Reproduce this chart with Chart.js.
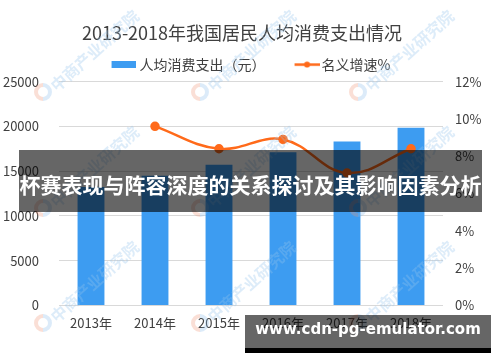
<!DOCTYPE html>
<html>
<head>
<meta charset="utf-8">
<script src="https://cdn.jsdelivr.net/npm/chart.js@4/dist/chart.umd.min.js"></script>
<style>
html, body { margin: 0; padding: 0; background: #fff; }
#wrap { position: relative; width: 500px; height: 362px; overflow: hidden; }
canvas { display: block; }
.banner {
    position: absolute; left: 19px; top: 150px; width: 463px; height: 62px;
    background: rgba(0, 0, 0, 0.6); color: #fff;
    font: bold 21px "Noto Sans CJK SC"; line-height: 68px;
    text-align: center; white-space: nowrap;
}
.site {
    position: absolute; left: 245px; top: 315px; width: 246px; height: 33px;
    background: rgba(0, 0, 0, 0.6); border-bottom: 5px solid #000;
}
.site-text {
    position: absolute; left: 245px; top: 320px; width: 246px; line-height: 33px;
    color: #fff; font: bold 15px "DejaVu Sans"; text-align: center; white-space: nowrap;
}
</style>
</head>
<body>
<div id="wrap">
    <canvas id="chart" width="500" height="362"></canvas>
    <div class="banner">杯赛表现与阵容深度的关系探讨及其影响因素分析</div>
    <div class="site"></div>
    <div class="site-text">www.cdn-pg-emulator.com</div>
</div>
<script>
const years = ['2013年', '2014年', '2015年', '2016年', '2017年', '2018年'];
const spending = [13220, 14491, 15712, 17111, 18322, 19853];
const growth = [null, 9.6, 8.4, 8.9, 7.1, 8.4];

const barColor = '#3d9cf1';
const lineColor = '#ff6a1a';
const textColor = '#404040';
const cjk = '"Noto Sans CJK SC", sans-serif';

// legend icons (drawn inside wider canvases so they sit like the original)
function makeIcon(w, h, draw) {
    const c = document.createElement('canvas');
    c.width = w;
    c.height = h;
    draw(c.getContext('2d'));
    return c;
}
const barIcon = makeIcon(45, 7, g => {
    g.fillStyle = barColor;
    g.fillRect(21, 0, 24, 7);
});
const lineIcon = makeIcon(49, 7, g => {
    g.strokeStyle = lineColor;
    g.lineWidth = 2.5;
    g.beginPath();
    g.moveTo(24, 3.5);
    g.lineTo(49, 3.5);
    g.stroke();
    g.fillStyle = lineColor;
    g.beginPath();
    g.arc(36.5, 3.5, 3, 0, Math.PI * 2);
    g.fill();
});

// faint site watermark
const watermark = {
    id: 'watermark',
    afterDatasetsDraw(chart) {
        const ctx = chart.ctx;
        const cols = [43, 200, 358];
        const rows = [92, 208, 323];
        ctx.save();
        rows.forEach(ly => {
            cols.forEach(lx => {
                ctx.save();
                ctx.lineWidth = 4;
                ctx.beginPath();
                ctx.arc(lx, ly, 7, Math.PI * 0.5, Math.PI * 1.5);
                ctx.strokeStyle = 'rgba(240, 150, 120, 0.3)';
                ctx.stroke();
                ctx.beginPath();
                ctx.arc(lx, ly, 7, Math.PI * 1.5, Math.PI * 0.5);
                ctx.strokeStyle = 'rgba(140, 190, 235, 0.3)';
                ctx.stroke();
                ctx.translate(lx + 10, ly - 4);
                ctx.rotate(-0.73);
                ctx.font = 'bold 16px ' + cjk;
                ctx.fillStyle = 'rgba(150, 195, 235, 0.32)';
                ctx.textBaseline = 'middle';
                ctx.fillText('中商产业研究院', 0, 0);
                ctx.restore();
            });
        });
        ctx.restore();
    }
};

new Chart(document.getElementById('chart'), {
    type: 'bar',
    data: {
        labels: years,
        datasets: [
            {
                type: 'line',
                label: '名义增速%',
                data: growth,
                yAxisID: 'y1',
                borderColor: lineColor,
                backgroundColor: lineColor,
                borderWidth: 2.5,
                pointRadius: 3.5,
                pointHoverRadius: 3.5,
                tension: 0.4,
                fill: false
            },
            {
                label: '人均消费支出（元）',
                data: spending,
                yAxisID: 'y',
                backgroundColor: barColor,
                categoryPercentage: 1,
                barPercentage: 0.42
            }
        ]
    },
    options: {
        responsive: false,
        animation: false,
        layout: { padding: { top: 18, left: 2, right: 18, bottom: 21 } },
        plugins: {
            tooltip: { enabled: false },
            title: {
                display: true,
                text: '2013-2018年我国居民人均消费支出情况',
                color: textColor,
                font: { family: cjk, size: 18, weight: 'normal' },
                padding: { top: 4, bottom: 4 }
            },
            legend: {
                display: true,
                labels: {
                    color: textColor,
                    font: { family: cjk, size: 14 },
                    usePointStyle: true,
                    pointStyleWidth: 39,
                    padding: 10,
                    sort: (a, b) => b.datasetIndex - a.datasetIndex,
                    generateLabels(chart) {
                        const items = Chart.defaults.plugins.legend.labels.generateLabels(chart);
                        items.forEach(it => {
                            it.pointStyle = it.datasetIndex === 0 ? lineIcon : barIcon;
                        });
                        return items;
                    }
                }
            }
        },
        scales: {
            x: {
                grid: { display: false, drawTicks: false },
                border: { display: false },
                ticks: { color: textColor, font: { family: cjk, size: 13 }, padding: 10 }
            },
            y: {
                position: 'left',
                min: 0,
                max: 25000,
                afterFit: s => { s.width = 57; },
                ticks: {
                    stepSize: 5000,
                    color: textColor,
                    font: { family: cjk, size: 13 },
                    padding: 20,
                    callback: v => String(v)
                },
                grid: { color: '#d9d9d9', drawTicks: false },
                border: { display: false }
            },
            y1: {
                position: 'right',
                min: 0,
                max: 12,
                afterFit: s => { s.width = 39; },
                ticks: {
                    stepSize: 2,
                    color: textColor,
                    font: { family: cjk, size: 13 },
                    padding: 12,
                    callback: v => v + '%'
                },
                grid: { display: false, drawTicks: false },
                border: { display: false }
            }
        }
    },
    plugins: [watermark]
});
</script>
</body>
</html>
